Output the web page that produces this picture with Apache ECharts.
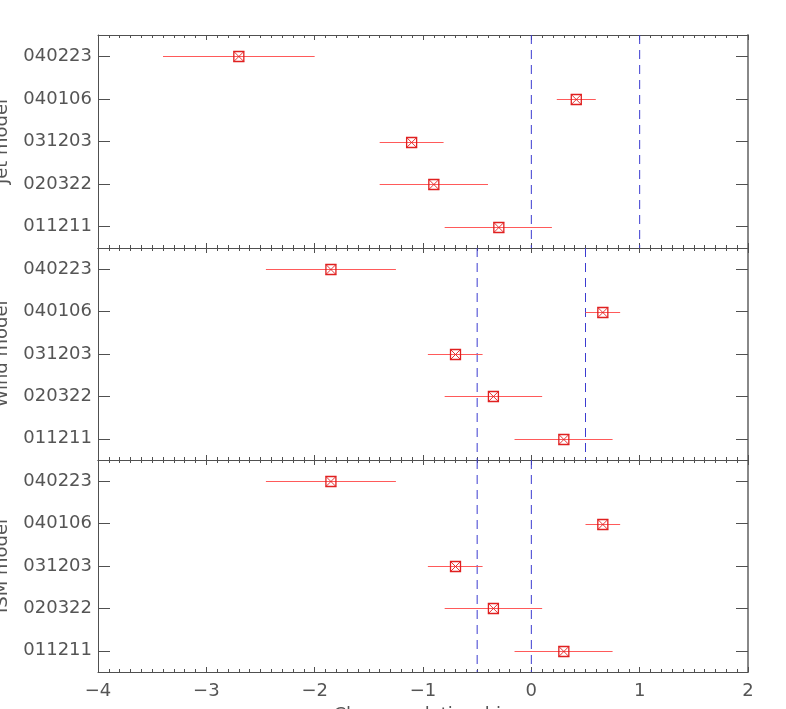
<!DOCTYPE html>
<html>
<head>
<meta charset="utf-8">
<script src="https://cdn.jsdelivr.net/npm/echarts@6/dist/echarts.min.js"></script>
<style>
html,body{margin:0;padding:0;background:#fff;}
#chart{width:786px;height:709px;}
</style>
</head>
<body>
<div id="chart"></div>
<script>
// categories listed bottom-to-top
const categories = ['011211', '020322', '031203', '040106', '040223'];
const panelNames = ['Jet model', 'Wind model', 'ISM model'];
const xTitle = 'Closure relationship';

// Jet model
const jetVal  = [-0.30, -0.90, -1.105, 0.415, -2.70];
const jetLow  = [-0.80, -1.40, -1.40, 0.235, -3.40];
const jetHigh = [0.19, -0.40, -0.81, 0.595, -2.00];
const jetRefs = [0, 1];

// Wind model
const windVal  = [0.30, -0.35, -0.70, 0.66, -1.85];
const windLow  = [-0.155, -0.80, -0.955, 0.50, -2.45];
const windHigh = [0.75, 0.10, -0.45, 0.82, -1.25];
const windRefs = [-0.5, 0.5];

// ISM model
const ismVal  = [0.30, -0.35, -0.70, 0.66, -1.85];
const ismLow  = [-0.155, -0.80, -0.955, 0.50, -2.45];
const ismHigh = [0.75, 0.10, -0.45, 0.82, -1.25];
const ismRefs = [-0.5, 0];

const xMin = -4, xMax = 2, xInterval = 1;

const panels = [
  {val: jetVal, low: jetLow, high: jetHigh, refs: jetRefs},
  {val: windVal, low: windLow, high: windHigh, refs: windRefs},
  {val: ismVal, low: ismLow, high: ismHigh, refs: ismRefs}
];

const FONT = 'DejaVu Sans';
const TXT = '#555';
const AX = '#505050';
const tops = [35, 248, 460];
const heights = [213, 212, 212];

const grids = [], xAxes = [], yAxes = [], series = [];
const fmt = v => String(v).replace('-', '\u2212');

panels.forEach((p, i) => {
  grids.push({left: 98, right: 38, top: tops[i], height: heights[i],
              containLabel: false, outerBoundsMode: 'none'});
  const last = i === panels.length - 1;
  // bottom x axis
  xAxes.push({
    type: 'value', gridIndex: i, position: 'bottom',
    min: xMin, max: xMax, interval: xInterval,
    splitLine: {show: false},
    axisLine: {show: true, onZero: false, lineStyle: {color: AX, width: 1}},
    axisTick: {show: true, inside: true, length: 5, lineStyle: {color: AX}},
    minorTick: {show: true, splitNumber: 10, length: 3, lineStyle: {color: AX}},
    axisLabel: {show: last, formatter: fmt, color: TXT, fontFamily: FONT, fontSize: 18, margin: 10},
    name: last ? xTitle : '', nameLocation: 'middle', nameGap: 34,
    nameTextStyle: {color: TXT, fontFamily: FONT, fontSize: 18}
  });
  // top x axis
  xAxes.push({
    type: 'value', gridIndex: i, position: 'top',
    min: xMin, max: xMax, interval: xInterval,
    splitLine: {show: false},
    axisLine: {show: true, onZero: false, lineStyle: {color: AX, width: 1}},
    axisTick: {show: true, inside: true, length: 5, lineStyle: {color: AX}},
    minorTick: {show: true, splitNumber: 10, length: 3, lineStyle: {color: AX}},
    axisLabel: {show: false}
  });
  // left y axis
  yAxes.push({
    type: 'category', gridIndex: i, position: 'left', data: categories,
    axisLine: {show: true, onZero: false, lineStyle: {color: AX, width: 1}},
    axisTick: {show: true, inside: true, alignWithLabel: true, length: 12, lineStyle: {color: AX}},
    axisLabel: {color: TXT, fontFamily: FONT, fontSize: 18, margin: 6},
    splitLine: {show: false},
    name: panelNames[i], nameLocation: 'middle', nameGap: 87, nameRotate: 90,
    nameTextStyle: {color: TXT, fontFamily: FONT, fontSize: 18}
  });
  // right y axis
  yAxes.push({
    type: 'category', gridIndex: i, position: 'right', data: categories,
    axisLine: {show: true, onZero: false, lineStyle: {color: '#888', width: 2}},
    axisTick: {show: true, inside: true, alignWithLabel: true, length: 12, lineStyle: {color: AX}},
    axisLabel: {show: false},
    splitLine: {show: false}
  });

  // dashed reference lines
  series.push({
    type: 'custom',
    xAxisIndex: i * 2, yAxisIndex: i * 2,
    data: p.refs.map(v => [v, 0]),
    encode: {x: 0, y: 1},
    clip: false,
    renderItem: function (params, api) {
      const cs = params.coordSys;
      const pt = api.coord([api.value(0), 0]);
      return {
        type: 'line',
        shape: {x1: pt[0], y1: cs.y, x2: pt[0], y2: cs.y + cs.height},
        style: {stroke: '#3c3cd0', lineWidth: 1, lineDash: [9, 6]}
      };
    },
    z: 2
  });

  const data = categories.map((c, k) => [p.val[k], p.low[k], p.high[k], k]);
  series.push({
    type: 'custom',
    xAxisIndex: i * 2, yAxisIndex: i * 2,
    data: data,
    encode: {x: [0, 1, 2], y: 3},
    renderItem: function (params, api) {
      const c = api.coord([api.value(0), api.value(3)]);
      const l = api.coord([api.value(1), api.value(3)]);
      const h = api.coord([api.value(2), api.value(3)]);
      const s = 5;
      const y = Math.round(c[1]) + 0.5;
      return {
        type: 'group',
        children: [
          {type: 'line', shape: {x1: l[0], y1: y, x2: h[0], y2: y},
           style: {stroke: '#ff5a5a', lineWidth: 1}},
          {type: 'rect', shape: {x: c[0] - s, y: y - s, width: 2 * s, height: 2 * s},
           style: {fill: 'none', stroke: '#e02020', lineWidth: 1.3}},
          {type: 'line', shape: {x1: c[0] - s, y1: y - s, x2: c[0] + s, y2: y + s},
           style: {stroke: '#e02020', lineWidth: 0.9}},
          {type: 'line', shape: {x1: c[0] + s, y1: y - s, x2: c[0] - s, y2: y + s},
           style: {stroke: '#e02020', lineWidth: 0.9}}
        ]
      };
    },
    z: 3
  });
});

const chart = echarts.init(document.getElementById('chart'), null, {renderer: 'canvas'});
chart.setOption({
  animation: false,
  backgroundColor: '#fff',
  grid: grids,
  xAxis: xAxes,
  yAxis: yAxes,
  series: series
});
</script>
</body>
</html>
